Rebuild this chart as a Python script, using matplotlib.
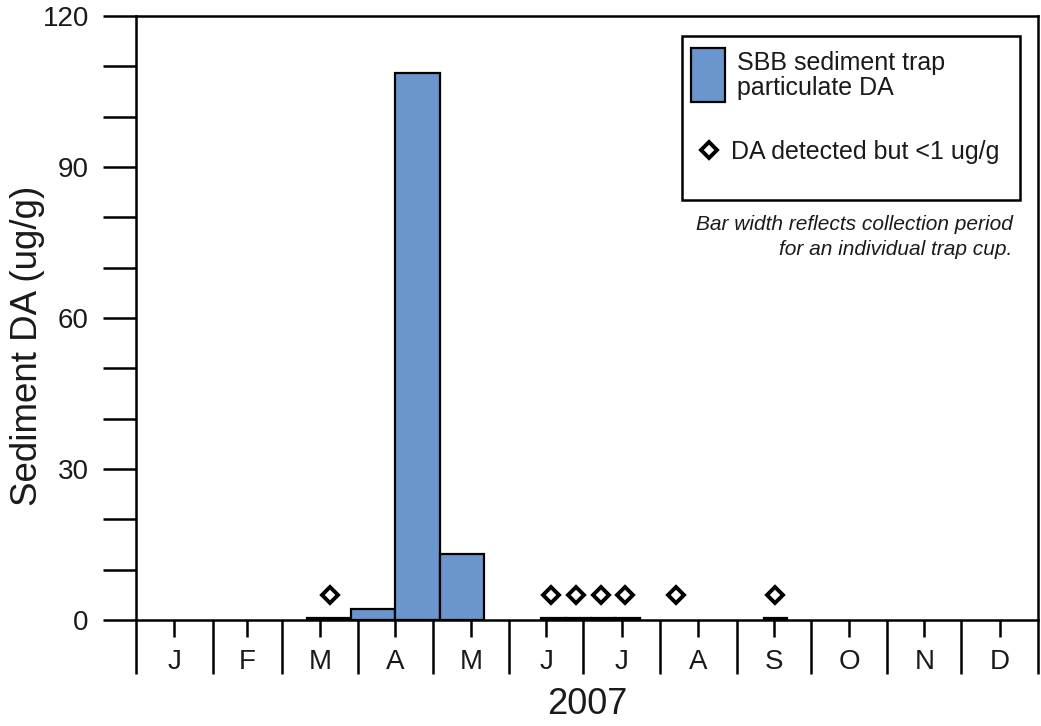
import matplotlib
matplotlib.use("Agg")
import matplotlib.pyplot as plt
from matplotlib.patches import Rectangle
from matplotlib.lines import Line2D
import numpy as np

# Sediment trap cups: collection window (day of year, 2007) and particulate DA (ug/g)
cup_start = [69, 87, 105, 123, 164, 174, 184, 194, 254]
cup_end = [87, 105, 123, 141, 174, 184, 194, 204, 263.5]
da_value = [0.3, 2.1, 108.7, 13.1, 0.3, 0.3, 0.3, 0.3, 0.3]

# Cups where DA was detected but below 1 ug/g (day of year)
detect_day = [78.5, 168, 178, 188, 198, 218.5, 258.5]
detect_marker_y = 5

month_starts = [0, 31, 59, 90, 120, 151, 181, 212, 243, 273, 304, 334, 365]
month_labels = ["J", "F", "M", "A", "M", "J", "J", "A", "S", "O", "N", "D"]

bar_color = "#6A95CD"
text_color = "#1a1a1a"
font = "Liberation Sans"

plt.rcParams["font.family"] = [font, "DejaVu Sans"]

fig = plt.figure(figsize=(10.41, 7.26), dpi=100)
ax = fig.add_axes([136 / 1041, 106 / 726, 902 / 1041, 604 / 726])

widths = np.subtract(cup_end, cup_start)
ax.bar(cup_start, da_value, width=widths, align="edge", color=bar_color,
       edgecolor="black", linewidth=1.6, zorder=2)
ax.plot(detect_day, [detect_marker_y] * len(detect_day), linestyle="none",
        marker="D", markersize=8, markerfacecolor="white",
        markeredgecolor="black", markeredgewidth=2.8, zorder=3)

ax.set_xlim(0, 365)
ax.set_ylim(0, 120)

for s in ax.spines.values():
    s.set_linewidth(1.8)
    s.set_zorder(4)

# y axis: labelled every 30, unlabelled ticks every 10
ax.set_yticks(np.arange(0, 121, 30))
ax.set_yticks(np.arange(0, 121, 10), minor=True)
ax.tick_params(axis="y", which="both", direction="out", length=24, width=1.8,
               labelsize=20, pad=10, colors="black", labelcolor=text_color)

# x axis: long ticks at month boundaries, month letters centred on each month
mids = [(a + b) / 2 for a, b in zip(month_starts[:-1], month_starts[1:])]
ax.set_xticks(month_starts)
ax.set_xticklabels([""] * len(month_starts))
ax.set_xticks(mids, minor=True)
ax.set_xticklabels(month_labels, minor=True)
ax.tick_params(axis="x", which="major", direction="out", length=39, width=1.8)
ax.tick_params(axis="x", which="minor", direction="out", length=12, width=1.8,
               labelsize=20, pad=9, labelcolor=text_color)

ax.set_ylabel("Sediment DA (ug/g)", fontsize=26.5, color=text_color,
              va="center")
ax.yaxis.set_label_coords(-0.1205, 0.454)
ax.set_xlabel("2007", fontsize=26, color=text_color, labelpad=6)

# Legend box
tr = ax.transAxes
ax.add_patch(Rectangle((0.605, 0.695), 0.375, 0.272, transform=tr,
                       facecolor="white", edgecolor="black", linewidth=1.8,
                       zorder=5))
ax.add_patch(Rectangle((0.615, 0.858), 0.038, 0.089, transform=tr,
                       facecolor=bar_color, edgecolor="black", linewidth=1.6,
                       zorder=6))
ax.text(0.666, 0.9106, "SBB sediment trap", transform=tr, fontsize=18,
        va="baseline", ha="left", color=text_color, zorder=6)
ax.text(0.666, 0.8692, "particulate DA", transform=tr, fontsize=18,
        va="baseline", ha="left", color=text_color, zorder=6)
ax.add_line(Line2D([0.635], [0.778], transform=tr, linestyle="none",
                   marker="D", markersize=8, markerfacecolor="white",
                   markeredgecolor="black", markeredgewidth=2.8, zorder=6))
ax.text(0.660, 0.763, "DA detected but <1 ug/g", transform=tr, fontsize=18,
        va="baseline", ha="left", color=text_color, zorder=6)

ax.text(0.972, 0.6457, "Bar width reflects collection period", transform=tr,
        fontsize=15, style="italic", ha="right", va="baseline",
        color=text_color)
ax.text(0.972, 0.6043, "for an individual trap cup.", transform=tr,
        fontsize=15, style="italic", ha="right", va="baseline",
        color=text_color)

fig.savefig("out.png", dpi=100)
